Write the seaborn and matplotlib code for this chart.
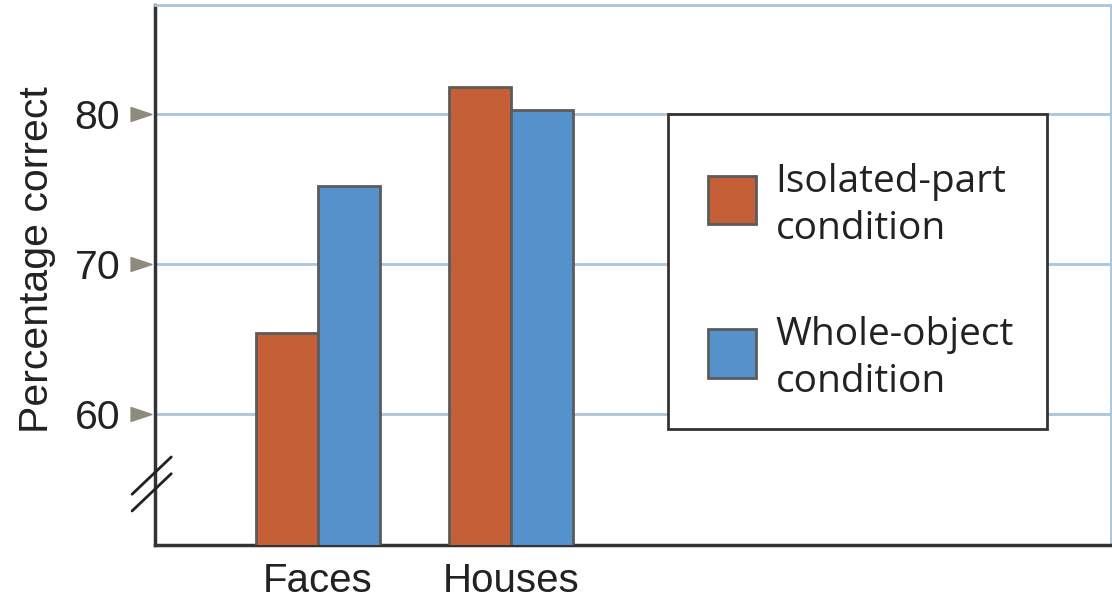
import matplotlib
matplotlib.use("Agg")
import matplotlib.pyplot as plt
import matplotlib.patches as mpatches
import matplotlib.transforms as mtransforms
from matplotlib.legend_handler import HandlerPatch
from matplotlib.path import Path
import seaborn as sns
import pandas as pd
import numpy as np

# data
stimuli = ["Faces", "Houses"]
conditions = ["Isolated-part condition", "Whole-object condition"]
isolated_part = [65.4, 81.8]
whole_object = [75.2, 80.3]
yticks = [60, 70, 80]

colors = ["#c45f37", "#5592cb"]
grid_blue = "#a9c6da"
dark = "#333333"

df = pd.DataFrame({
    "stimulus": stimuli * 2,
    "condition": [conditions[0]] * 2 + [conditions[1]] * 2,
    "pct": isolated_part + whole_object,
})

sns.set_style("white")
plt.rcParams["font.family"] = ["Liberation Sans", "DejaVu Sans"]

fig = plt.figure(figsize=(11.12, 6.03), dpi=100)
ax = fig.add_axes([0.1394, 0.0962, 0.8597, 0.8955])

sns.barplot(data=df, x="stimulus", y="pct", hue="condition", hue_order=conditions,
            palette=colors, width=0.643, gap=0, edgecolor="#5b5b5b", linewidth=2,
            saturation=1, legend=False, ax=ax, zorder=3)

ax.set_xlim(-0.845, 4.109)
ax.set_ylim(51.27, 87.27)
ax.set_yticks(yticks)
ax.set_axisbelow(True)
ax.grid(axis="y", color=grid_blue, linewidth=2)
ax.grid(axis="x", visible=False)

for side in ["left", "bottom"]:
    ax.spines[side].set_color(dark)
    ax.spines[side].set_linewidth(2.5)
for side in ["top", "right"]:
    ax.spines[side].set_color(grid_blue)
    ax.spines[side].set_linewidth(2)

ax.tick_params(axis="y", length=0, pad=25, labelsize=29.5, labelcolor="#222222")
ax.tick_params(axis="x", length=0, pad=12, labelsize=29, labelcolor="#222222")
ax.set_xlabel("")
ax.set_ylabel("Percentage correct", fontsize=29.5, color="#222222")
ax.yaxis.set_label_coords(-0.104, 0.528)

# wide triangle tick markers outside the left spine
tri = Path([(-1.5, 1), (1.5, 0), (-1.5, -1), (-1.5, 1)],
           [Path.MOVETO, Path.LINETO, Path.LINETO, Path.CLOSEPOLY])
trans = mtransforms.blended_transform_factory(ax.transAxes, ax.transData)
ax.plot(np.full(len(yticks), -0.0146), yticks, transform=trans, marker=tri,
        ls="none", ms=15, color="#8d8c7c", clip_on=False)

# axis break marks
for dy in [0, -0.031]:
    ax.plot([-0.024, 0.017], [0.094 + dy, 0.163 + dy], transform=ax.transAxes,
            color="#222222", lw=2, clip_on=False, zorder=5)

# legend box drawn separately so the inner padding can be uneven
ax.add_patch(mpatches.Rectangle((0.5366, 0.2148), 0.3964, 0.5833, transform=ax.transAxes,
                                facecolor="white", edgecolor=dark, linewidth=2, zorder=4))


def raised_square(legend, orig_handle, xdescent, ydescent, width, height, fontsize):
    # lift the swatch a little so it sits centred on the two-line label
    return mpatches.Rectangle((-xdescent, -ydescent + 5), width, height)


handles = [mpatches.Patch(facecolor=c, edgecolor="#5b5b5b", linewidth=2) for c in colors]
leg = ax.legend(handles, ["Isolated-part\ncondition", "Whole-object\ncondition"],
                loc="upper left", bbox_to_anchor=(0.5397, 0.776), borderaxespad=0,
                frameon=False,
                handler_map={mpatches.Patch: HandlerPatch(patch_func=raised_square)},
                handlelength=1.23, handleheight=1.55, handletextpad=0.51,
                labelspacing=1.77, borderpad=0.95,
                prop={"family": ["Open Sans", "DejaVu Sans"], "size": 28})
leg.set_zorder(5)
for t in leg.get_texts():
    t.set_color("#222222")
    t.set_linespacing(1.3)

fig.savefig("out.png", dpi=100)
